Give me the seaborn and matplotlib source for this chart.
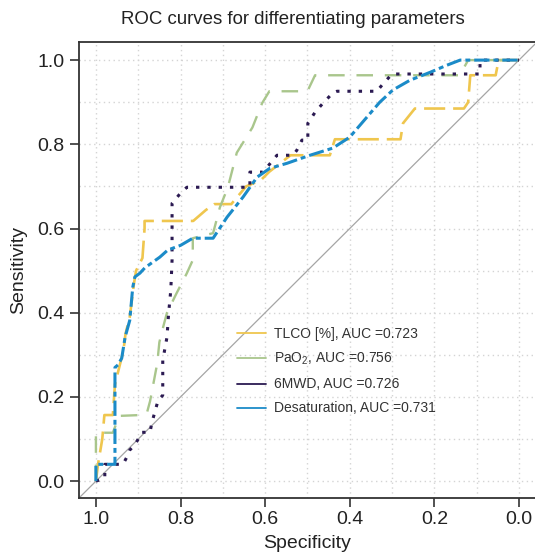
import numpy as np
import pandas as pd
import matplotlib
matplotlib.use("Agg")
import matplotlib.pyplot as plt
from matplotlib.lines import Line2D
import seaborn as sns

# ROC points (specificity, sensitivity)
tlco_spec = [1.0, 0.995, 0.985, 0.98, 0.96, 0.955, 0.945, 0.935, 0.93, 0.92, 0.91, 0.905, 0.89,
             0.885, 0.885, 0.77, 0.74, 0.72, 0.68, 0.645, 0.61, 0.59, 0.54, 0.447, 0.435, 0.28,
             0.274, 0.246, 0.13, 0.12, 0.115, 0.055, 0.048, 0.0]
tlco_sens = [0.0, 0.04, 0.10, 0.157, 0.157, 0.23, 0.27, 0.31, 0.35, 0.39, 0.47, 0.50, 0.53,
             0.60, 0.618, 0.618, 0.644, 0.658, 0.658, 0.70, 0.715, 0.735, 0.774, 0.774, 0.812, 0.812,
             0.85, 0.885, 0.885, 0.90, 0.964, 0.964, 1.0, 1.0]

pao2_spec = [1.0, 1.0, 0.96, 0.945, 0.895, 0.88, 0.872, 0.855, 0.85, 0.84, 0.832, 0.81, 0.785,
             0.771, 0.771, 0.723, 0.707, 0.688, 0.667, 0.63, 0.607, 0.59, 0.50, 0.482, 0.14,
             0.12, 0.0]
pao2_sens = [0.0, 0.115, 0.115, 0.155, 0.157, 0.16, 0.19, 0.28, 0.33, 0.37, 0.40, 0.445, 0.494,
             0.525, 0.577, 0.589, 0.65, 0.698, 0.78, 0.84, 0.898, 0.926, 0.926, 0.964, 0.964,
             1.0, 1.0]

mwd_spec = [1.0, 0.979, 0.979, 0.936, 0.927, 0.92, 0.908, 0.891, 0.872, 0.868, 0.853, 0.842,
            0.842, 0.832, 0.828, 0.823, 0.82, 0.82, 0.80, 0.785, 0.636, 0.636, 0.605, 0.572,
            0.534, 0.525, 0.513, 0.499, 0.499, 0.482, 0.463, 0.44, 0.43, 0.336, 0.32, 0.30,
            0.092, 0.092, 0.0]
mwd_sens = [0.0, 0.007, 0.04, 0.04, 0.057, 0.074, 0.086, 0.116, 0.116, 0.138, 0.192, 0.204,
            0.287, 0.342, 0.40, 0.454, 0.525, 0.66, 0.684, 0.698, 0.698, 0.734, 0.734, 0.774,
            0.774, 0.786, 0.81, 0.81, 0.85, 0.876, 0.898, 0.922, 0.926, 0.926, 0.945, 0.967,
            0.967, 1.0, 1.0]

desat_spec = [1.0, 1.0, 0.955, 0.955, 0.948, 0.939, 0.931, 0.92, 0.913, 0.908, 0.896, 0.884,
              0.849, 0.83, 0.80, 0.771, 0.723, 0.69, 0.652, 0.619, 0.589, 0.548, 0.494, 0.44,
              0.40, 0.359, 0.329, 0.298, 0.258, 0.21, 0.17, 0.139, 0.0]
desat_sens = [0.0, 0.04, 0.04, 0.27, 0.276, 0.292, 0.342, 0.382, 0.46, 0.485, 0.494, 0.507,
              0.532, 0.549, 0.56, 0.577, 0.577, 0.627, 0.675, 0.722, 0.743, 0.755, 0.774, 0.791,
              0.817, 0.865, 0.90, 0.929, 0.952, 0.971, 0.988, 1.0, 1.0]

labels = ["TLCO [%], AUC =0.723", "PaO$_2$, AUC =0.756", "6MWD, AUC =0.726",
          "Desaturation, AUC =0.731"]
colors = ["#EFC64E", "#A9C68C", "#2B1A52", "#1B8BC8"]
styles = [(0, (8, 3)), (0, (7, 5)), (0, (1.1, 2.6)), (0, (5, 1.3, 1.6, 1.3))]
widths = [1.9, 1.7, 2.2, 2.2]

sns.set_theme(style="white")
plt.rcParams['font.family'] = ['Liberation Sans', 'DejaVu Sans']
plt.rcParams['mathtext.default'] = 'regular'

fig = plt.figure(figsize=(5.35, 5.56), dpi=100)
ax = fig.add_axes([79 / 535, 1 - 498 / 556, 456 / 535, 456 / 556])

ax.axline((1, 0), (0, 1), color="#A5A5A5", lw=0.9, zorder=1)

curves = [(tlco_spec, tlco_sens), (pao2_spec, pao2_sens), (mwd_spec, mwd_sens),
          (desat_spec, desat_sens)]
for (sp, se), lab, c, ls, lw in zip(curves, labels, colors, styles, widths):
    df = pd.DataFrame({"Specificity": sp, "Sensitivity": se})
    sns.lineplot(data=df, x="Specificity", y="Sensitivity", sort=False, estimator=None,
                 color=c, linestyle=ls, lw=lw, ax=ax, zorder=3)

ax.set_xlim(1.040, -0.038)
ax.set_ylim(-0.040, 1.043)
ticks = [0.0, 0.2, 0.4, 0.6, 0.8, 1.0]
ax.set_xticks(ticks)
ax.set_yticks(ticks)
ax.set_xticklabels([f"{t:.1f}" for t in ticks])
ax.set_yticklabels([f"{t:.1f}" for t in ticks])
ax.set_xticks(np.arange(0, 1.01, 0.1), minor=True)
ax.set_yticks(np.arange(0, 1.01, 0.1), minor=True)
ax.grid(which="both", color="#D4D4D4", linestyle=(0, (1, 2.5)), lw=1.0)
ax.tick_params(which="major", direction="out", length=6.5, width=1.2, color="#333333",
               labelsize=14, pad=3, bottom=True, left=True, labelcolor="#222222")
ax.tick_params(axis="y", pad=4)
ax.tick_params(which="minor", length=0)
for side in ["left", "bottom", "top"]:
    ax.spines[side].set_color("#333333")
    ax.spines[side].set_linewidth(1.3)
ax.spines["right"].set_visible(False)

ax.set_xlabel("Specificity", fontsize=14, color="#222222", labelpad=5)
ax.set_ylabel("Sensitivity", fontsize=14, color="#222222", labelpad=7)
fig.text(293 / 535, 1 - 20 / 556, "ROC curves for differentiating parameters",
         ha="center", va="center", fontsize=13.4, color="#222222")

handles = [Line2D([0], [0], color=c, lw=1.3) for c in colors]
ax.legend(handles, labels, loc="upper left", bbox_to_anchor=(237 / 535, 1 - 327 / 556),
          bbox_transform=fig.transFigure, frameon=False, fontsize=10, handlelength=2.1,
          handletextpad=0.6, labelspacing=0.72, borderpad=0, borderaxespad=0,
          labelcolor="#333333")

fig.savefig("out.png", dpi=100)
